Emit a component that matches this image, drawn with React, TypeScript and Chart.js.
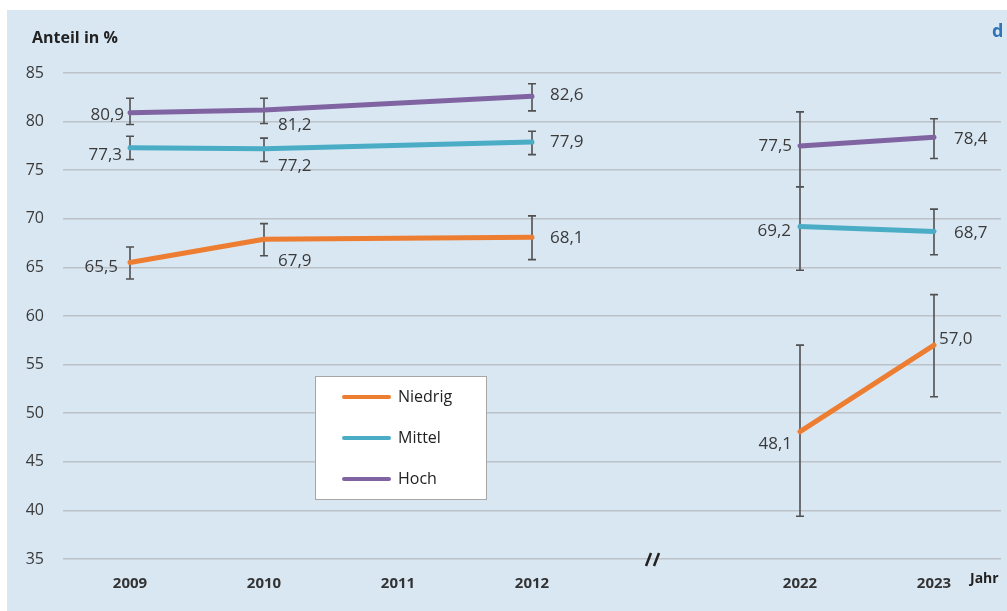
import React, { useEffect, useRef } from 'react';
import { Chart, registerables } from 'chart.js';

Chart.register(...registerables);

// ---- data ----
const categories = ['2009', '2010', '2011', '2012', '', '2022', '2023'];
const seriesNames = ['Niedrig', 'Mittel', 'Hoch'];

const niedrig = [65.5, 67.9, null, 68.1, null, 48.1, 57.0];
const mittel = [77.3, 77.2, null, 77.9, null, 69.2, 68.7];
const hoch = [80.9, 81.2, null, 82.6, null, 77.5, 78.4];

const niedrigLow = [63.8, 66.2, null, 65.8, null, 39.4, 51.7];
const niedrigHigh = [67.1, 69.5, null, 70.3, null, 57.0, 62.2];
const mittelLow = [76.1, 75.9, null, 76.6, null, 64.7, 66.3];
const mittelHigh = [78.5, 78.3, null, 79.0, null, 73.3, 71.0];
const hochLow = [79.7, 79.8, null, 81.1, null, 73.3, 76.2];
const hochHigh = [82.4, 82.4, null, 83.9, null, 81.0, 80.3];

const yTicks = [35, 40, 45, 50, 55, 60, 65, 70, 75, 80, 85];

// ---- styles ----
const colors = ['#ED7D31', '#4BACC6', '#8064A2'];
const FONT = '"Open Sans", Lato, "DejaVu Sans", sans-serif';
const TEXT = '#3a3a3a';
const PANEL = '#d9e7f3';

// label placement per series and point: [dx, dy, align]
const labelPlacement: Array<Array<[number, number, CanvasTextAlign]>> = [
  [[-12, 5, 'right'], [14, 22, 'left'], [0, 0, 'left'], [18, 1, 'left'], [0, 0, 'left'], [-8, 12, 'right'], [5, -6, 'left']],
  [[-8, 7, 'right'], [14, 17, 'left'], [0, 0, 'left'], [18, 0, 'left'], [0, 0, 'left'], [-9, 5, 'right'], [20, 2, 'left']],
  [[-6, 2, 'right'], [14, 15, 'left'], [0, 0, 'left'], [18, -1, 'left'], [0, 0, 'left'], [-8, 0, 'right'], [20, 2, 'left']],
];

const values = [niedrig, mittel, hoch];
const lows = [niedrigLow, mittelLow, hochLow];
const highs = [niedrigHigh, mittelHigh, hochHigh];
const breakIdx = categories.indexOf('');

const fmt = (v: number) => v.toFixed(1).replace('.', ',');

const decorPlugin = {
  id: 'decor',
  beforeDraw(chart: any) {
    const { ctx, width, height } = chart;
    ctx.save();
    ctx.fillStyle = '#ffffff';
    ctx.fillRect(0, 0, width, height);
    ctx.fillStyle = PANEL;
    ctx.fillRect(7, 10, width - 7, height - 10);
    ctx.restore();
  },
  beforeDatasetsDraw(chart: any) {
    const { ctx } = chart;
    const x = chart.scales.x;
    const y = chart.scales.y;
    ctx.save();
    ctx.strokeStyle = '#505050';
    ctx.lineWidth = 1.6;
    for (let s = 0; s < values.length; s++) {
      for (let i = 0; i < categories.length; i++) {
        const lo = lows[s][i];
        const hi = highs[s][i];
        if (lo == null || hi == null) continue;
        const px = x.getPixelForValue(i);
        const y1 = y.getPixelForValue(lo);
        const y2 = y.getPixelForValue(hi);
        ctx.beginPath();
        ctx.moveTo(px, y1);
        ctx.lineTo(px, y2);
        ctx.moveTo(px - 4, y1);
        ctx.lineTo(px + 4, y1);
        ctx.moveTo(px - 4, y2);
        ctx.lineTo(px + 4, y2);
        ctx.stroke();
      }
    }
    ctx.restore();
  },
  afterDatasetsDraw(chart: any) {
    const { ctx } = chart;
    const x = chart.scales.x;
    const y = chart.scales.y;
    ctx.save();
    // value labels
    ctx.font = `17px ${FONT}`;
    ctx.fillStyle = TEXT;
    ctx.textBaseline = 'middle';
    for (let s = 0; s < values.length; s++) {
      for (let i = 0; i < categories.length; i++) {
        const v = values[s][i];
        if (v == null) continue;
        const [dx, dy, align] = labelPlacement[s][i];
        ctx.textAlign = align;
        ctx.fillText(fmt(v), x.getPixelForValue(i) + dx, y.getPixelForValue(v) + dy);
      }
    }
    // axis title
    ctx.textAlign = 'left';
    ctx.font = `bold 16px ${FONT}`;
    ctx.fillStyle = '#222';
    ctx.fillText('Anteil in %', 32, 38);
    ctx.font = `bold 14px ${FONT}`;
    ctx.fillText('Jahr', 970, 579);
    // panel letter
    ctx.font = `bold 18px ${FONT}`;
    ctx.fillStyle = '#2e75b6';
    ctx.fillText('d', 992, 32);
    // axis break mark
    ctx.strokeStyle = '#222';
    ctx.lineWidth = 2.5;
    const bx = x.getPixelForValue(breakIdx) - 14;
    ctx.beginPath();
    ctx.moveTo(bx - 6, 566);
    ctx.lineTo(bx - 1, 553);
    ctx.moveTo(bx + 2, 566);
    ctx.lineTo(bx + 7, 553);
    ctx.stroke();
    // legend
    const lx = 315, ly = 376, lw = 171, lh = 123;
    ctx.fillStyle = '#ffffff';
    ctx.fillRect(lx, ly, lw, lh);
    ctx.strokeStyle = '#a6a6a6';
    ctx.lineWidth = 1;
    ctx.strokeRect(lx + 0.5, ly + 0.5, lw, lh);
    ctx.font = `16px ${FONT}`;
    ctx.textAlign = 'left';
    for (let s = 0; s < seriesNames.length; s++) {
      const ry = 397 + s * 41;
      ctx.strokeStyle = colors[s];
      ctx.lineWidth = 4;
      ctx.lineCap = 'round';
      ctx.beginPath();
      ctx.moveTo(344, ry);
      ctx.lineTo(389, ry);
      ctx.stroke();
      ctx.fillStyle = '#222';
      ctx.fillText(seriesNames[s], 398, ry);
    }
    ctx.restore();
  },
};

export default function App() {
  const ref = useRef<HTMLCanvasElement | null>(null);
  useEffect(() => {
    if (!ref.current) return;
    const chart = new Chart(ref.current, {
      type: 'line',
      data: {
        labels: categories,
        datasets: seriesNames.map((name, s) => ({
          label: name,
          data: values[s],
          borderColor: colors[s],
          backgroundColor: colors[s],
          borderWidth: 5,
          borderCapStyle: 'round',
          borderJoinStyle: 'round',
          pointRadius: 0,
          tension: 0,
          spanGaps: true,
          segment: {
            borderColor: (c: any) =>
              c.p0DataIndex <= breakIdx && c.p1DataIndex > breakIdx ? 'rgba(0,0,0,0)' : undefined,
          },
        })),
      },
      options: {
        responsive: false,
        animation: false,
        layout: { padding: { left: 0, top: 73, right: 6, bottom: 0 } },
        plugins: { legend: { display: false }, title: { display: false }, tooltip: { enabled: false } },
        scales: {
          x: {
            type: 'category',
            offset: true,
            grid: { display: false, drawTicks: false },
            border: { display: false },
            ticks: {
              padding: 16,
              color: '#333',
              font: { family: FONT, size: 15, weight: 'bold' },
              maxRotation: 0,
              autoSkip: false,
            },
            afterFit: (sc: any) => { sc.height = 52; },
          },
          y: {
            min: 35,
            max: 85,
            afterBuildTicks: (sc: any) => { sc.ticks = yTicks.map((v) => ({ value: v })); },
            grid: { color: '#bcc2c8', lineWidth: 1.5, drawTicks: false },
            border: { display: false },
            ticks: {
              padding: 19,
              color: TEXT,
              font: { family: FONT, size: 16 },
            },
            afterFit: (sc: any) => { sc.width = 63; },
          },
        },
      },
      plugins: [decorPlugin],
    } as any);
    return () => chart.destroy();
  }, []);
  return (
    <div style={{ position: 'absolute', left: 0, top: 0, width: 1007, height: 611 }}>
      <canvas ref={ref} width={1007} height={611} style={{ width: 1007, height: 611, display: 'block' }} />
    </div>
  );
}
